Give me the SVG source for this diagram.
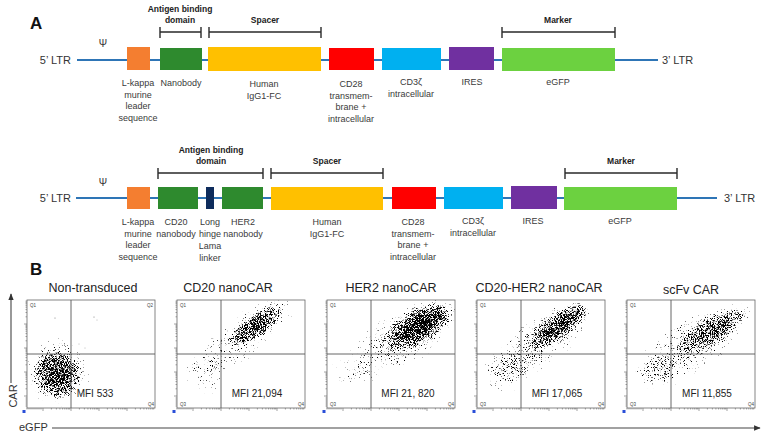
<svg xmlns="http://www.w3.org/2000/svg" width="768" height="436" viewBox="0 0 768 436">
<style>
text{font-family:"Liberation Sans",Arial,sans-serif;}
.lbl{font-size:9px;fill:#3a3a3a;text-anchor:middle;}
.hd{font-size:8.5px;font-weight:bold;fill:#222;text-anchor:middle;}
.ltr{font-size:11px;fill:#333;}
.psi{font-size:10px;fill:#333;text-anchor:middle;}
.pn{font-size:17px;font-weight:bold;fill:#111;}
.br{stroke:#2a2a2a;stroke-width:1.4;fill:none;}
.bb{stroke:#2E75B6;stroke-width:2.2;fill:none;}
.ttl{font-size:12.5px;fill:#222;text-anchor:middle;}
.mfi{font-size:10px;fill:#222;text-anchor:middle;}
.q{font-size:4.5px;fill:#444;}
.frame{fill:#fff;stroke:#666;stroke-width:0.8;}
.gate{stroke:#555;stroke-width:0.9;fill:none;}
.ax{stroke:#444;stroke-width:1.1;fill:none;}
</style>
<defs>
<marker id="ah" viewBox="0 0 10 10" refX="9" refY="5" markerWidth="6" markerHeight="6" orient="auto">
<path d="M0 1L10 5L0 9Z" fill="#333"/>
</marker>
<radialGradient id="rg">
<stop offset="0" stop-color="#000" stop-opacity="1"/>
<stop offset="0.4" stop-color="#000" stop-opacity="0.85"/>
<stop offset="0.75" stop-color="#000" stop-opacity="0.5"/>
<stop offset="1" stop-color="#000" stop-opacity="0"/>
</radialGradient>
<filter id="f1" x="0" y="0" width="128" height="108" filterUnits="userSpaceOnUse" color-interpolation-filters="sRGB">
<feTurbulence type="fractalNoise" baseFrequency="1.3" numOctaves="2" seed="3" result="n"/>
<feColorMatrix in="n" type="matrix" values="0 0 0 0 0 0 0 0 0 0 0 0 0 0 0 1.7 0 0 0 -0.35" result="na"/>
<feComposite in="SourceAlpha" in2="na" operator="arithmetic" k1="0" k2="0.8" k3="-1" k4="0" result="d"/>
<feComponentTransfer in="d"><feFuncA type="linear" slope="5" intercept="0"/></feComponentTransfer>
</filter>
<filter id="f2" x="0" y="0" width="128" height="108" filterUnits="userSpaceOnUse" color-interpolation-filters="sRGB">
<feTurbulence type="fractalNoise" baseFrequency="1.3" numOctaves="2" seed="11" result="n"/>
<feColorMatrix in="n" type="matrix" values="0 0 0 0 0 0 0 0 0 0 0 0 0 0 0 1.7 0 0 0 -0.35" result="na"/>
<feComposite in="SourceAlpha" in2="na" operator="arithmetic" k1="0" k2="0.8" k3="-1" k4="0" result="d"/>
<feComponentTransfer in="d"><feFuncA type="linear" slope="5" intercept="0"/></feComponentTransfer>
</filter>
<filter id="f3" x="0" y="0" width="128" height="108" filterUnits="userSpaceOnUse" color-interpolation-filters="sRGB">
<feTurbulence type="fractalNoise" baseFrequency="1.3" numOctaves="2" seed="27" result="n"/>
<feColorMatrix in="n" type="matrix" values="0 0 0 0 0 0 0 0 0 0 0 0 0 0 0 1.7 0 0 0 -0.35" result="na"/>
<feComposite in="SourceAlpha" in2="na" operator="arithmetic" k1="0" k2="0.8" k3="-1" k4="0" result="d"/>
<feComponentTransfer in="d"><feFuncA type="linear" slope="5" intercept="0"/></feComponentTransfer>
</filter>
<filter id="f4" x="0" y="0" width="128" height="108" filterUnits="userSpaceOnUse" color-interpolation-filters="sRGB">
<feTurbulence type="fractalNoise" baseFrequency="1.3" numOctaves="2" seed="42" result="n"/>
<feColorMatrix in="n" type="matrix" values="0 0 0 0 0 0 0 0 0 0 0 0 0 0 0 1.7 0 0 0 -0.35" result="na"/>
<feComposite in="SourceAlpha" in2="na" operator="arithmetic" k1="0" k2="0.8" k3="-1" k4="0" result="d"/>
<feComponentTransfer in="d"><feFuncA type="linear" slope="5" intercept="0"/></feComponentTransfer>
</filter>
<filter id="f5" x="0" y="0" width="128" height="108" filterUnits="userSpaceOnUse" color-interpolation-filters="sRGB">
<feTurbulence type="fractalNoise" baseFrequency="1.3" numOctaves="2" seed="58" result="n"/>
<feColorMatrix in="n" type="matrix" values="0 0 0 0 0 0 0 0 0 0 0 0 0 0 0 1.7 0 0 0 -0.35" result="na"/>
<feComposite in="SourceAlpha" in2="na" operator="arithmetic" k1="0" k2="0.8" k3="-1" k4="0" result="d"/>
<feComponentTransfer in="d"><feFuncA type="linear" slope="5" intercept="0"/></feComponentTransfer>
</filter>
<g id="plotbase">
<rect class="frame" x="0" y="0" width="128" height="108"/>
</g>
<g id="tk" stroke="#666" stroke-width="0.6" fill="none">
<path d="M0 108v1.5M2 108v1.5M4 108v1.5M6 108v1.5M8 108v1.5M10 108v1.5M12 108v1.5M14 108v1.5M16 108v3M24.4 108v1.5M29.4 108v1.5M32.9 108v1.5M35.6 108v1.5M37.8 108v1.5M39.7 108v1.5M41.3 108v1.5M42.7 108v1.5M44 108v3M52.4 108v1.5M57.4 108v1.5M60.9 108v1.5M63.6 108v1.5M65.8 108v1.5M67.7 108v1.5M69.3 108v1.5M70.7 108v1.5M72 108v3M80.4 108v1.5M85.4 108v1.5M88.9 108v1.5M91.6 108v1.5M93.8 108v1.5M95.7 108v1.5M97.3 108v1.5M98.7 108v1.5M100 108v3M108.4 108v1.5M113.4 108v1.5M116.9 108v1.5M119.6 108v1.5M121.8 108v1.5M123.7 108v1.5M125.3 108v1.5M126.7 108v1.5"/>
<path d="M0 106h-1.5M0 104h-1.5M0 102h-1.5M0 100h-1.5M0 98h-1.5M0 96h-3M0 88.8h-1.5M0 84.5h-1.5M0 81.6h-1.5M0 79.2h-1.5M0 77.3h-1.5M0 75.7h-1.5M0 74.3h-1.5M0 73.1h-1.5M0 72h-3M0 64.8h-1.5M0 60.5h-1.5M0 57.6h-1.5M0 55.2h-1.5M0 53.3h-1.5M0 51.7h-1.5M0 50.3h-1.5M0 49.1h-1.5M0 48h-3M0 40.8h-1.5M0 36.5h-1.5M0 33.6h-1.5M0 31.2h-1.5M0 29.3h-1.5M0 27.7h-1.5M0 26.3h-1.5M0 25.1h-1.5M0 24h-3M0 16.8h-1.5M0 12.5h-1.5M0 9.6h-1.5M0 7.2h-1.5M0 5.3h-1.5M0 3.7h-1.5M0 2.3h-1.5M0 1.1h-1.5"/>
<rect x="-4.5" y="110" width="3" height="3" fill="#2a4fd8" stroke="none"/>
</g>
<g id="gates">
<path class="gate" d="M44 0V108M0 54H128"/>
</g>
</defs>

<!-- Panel letters -->
<text class="pn" x="30" y="29">A</text>
<text class="pn" x="30" y="275">B</text>

<!-- Connectors: vector backbones and bracket lines -->
<g id="connectors">
<path class="bb" d="M77 60H658"/>
<path class="bb" d="M76 198H717"/>
<path class="br" d="M160 32H201M160 27V38M201 27V38"/>
<path class="br" d="M209 32H321M209 27V38M321 27V38"/>
<path class="br" d="M502 32H615M502 27V38M615 27V38"/>
<path class="br" d="M158 173H263M158 168V179M263 168V179"/>
<path class="br" d="M271 173H383M271 168V179M383 168V179"/>
<path class="br" d="M565 173H677M565 168V179M677 168V179"/>
<path class="ax" d="M11 383V294" marker-end="url(#ah)"/>
<path class="ax" d="M52 428H760" marker-end="url(#ah)"/>
</g>

<!-- Construct 1 -->
<g id="c1-ltr5"><text class="ltr" x="71" y="64" text-anchor="end">5’ LTR</text><text class="psi" x="103" y="47">Ψ</text></g>
<g id="c1-ltr3"><text class="ltr" x="662" y="64">3’ LTR</text></g>
<g id="c1-headers">
<text class="hd" x="180" y="11.5">Antigen binding</text>
<text class="hd" x="180" y="23">domain</text>
<text class="hd" x="265" y="23">Spacer</text>
<text class="hd" x="558" y="23">Marker</text>
</g>
<g id="c1-leader"><rect x="127" y="47" width="23" height="23" fill="#F47E30"/>
<text class="lbl" x="138" y="86">L-kappa</text><text class="lbl" x="138" y="97.5">murine</text><text class="lbl" x="138" y="109">leader</text><text class="lbl" x="138" y="120.5">sequence</text></g>
<g id="c1-nanobody"><rect x="160" y="48" width="42" height="22" fill="#2E8A2E"/>
<text class="lbl" x="181" y="86">Nanobody</text></g>
<g id="c1-fc"><rect x="208" y="47" width="113" height="24" fill="#FFC000"/>
<text class="lbl" x="264" y="87">Human</text><text class="lbl" x="264" y="99">IgG1-FC</text></g>
<g id="c1-cd28"><rect x="329" y="48" width="45" height="22" fill="#FF0000"/>
<text class="lbl" x="351" y="87">CD28</text><text class="lbl" x="351" y="98.5">transmem-</text><text class="lbl" x="351" y="110">brane +</text><text class="lbl" x="351" y="121.5">intracellular</text></g>
<g id="c1-cd3z"><rect x="382" y="48" width="59" height="22" fill="#00B0F0"/>
<text class="lbl" x="411" y="85">CD3ζ</text><text class="lbl" x="411" y="97">intracellular</text></g>
<g id="c1-ires"><rect x="449" y="47" width="45" height="23" fill="#7030A0"/>
<text class="lbl" x="472" y="85">IRES</text></g>
<g id="c1-egfp"><rect x="502" y="48" width="113" height="23" fill="#6CD140"/>
<text class="lbl" x="558" y="85">eGFP</text></g>

<!-- Construct 2 -->
<g id="c2-ltr5"><text class="ltr" x="71" y="202" text-anchor="end">5’ LTR</text><text class="psi" x="103" y="186">Ψ</text></g>
<g id="c2-ltr3"><text class="ltr" x="724" y="202">3’ LTR</text></g>
<g id="c2-headers">
<text class="hd" x="211" y="152.5">Antigen binding</text>
<text class="hd" x="211" y="164">domain</text>
<text class="hd" x="327" y="164">Spacer</text>
<text class="hd" x="621" y="164">Marker</text>
</g>
<g id="c2-leader"><rect x="127" y="187" width="23" height="22" fill="#F47E30"/>
<text class="lbl" x="138" y="225">L-kappa</text><text class="lbl" x="138" y="236.5">murine</text><text class="lbl" x="138" y="248">leader</text><text class="lbl" x="138" y="259.5">sequence</text></g>
<g id="c2-cd20"><rect x="158" y="187" width="40" height="22" fill="#2E8A2E"/>
<text class="lbl" x="176" y="225">CD20</text><text class="lbl" x="176" y="236.5">nanobody</text></g>
<g id="c2-linker"><rect x="206" y="187" width="8" height="22" fill="#0E2C5C"/>
<text class="lbl" x="210" y="225">Long</text><text class="lbl" x="210" y="237">hinge</text><text class="lbl" x="210" y="249">Lama</text><text class="lbl" x="210" y="261">linker</text></g>
<g id="c2-her2"><rect x="222" y="187" width="41" height="22" fill="#2E8A2E"/>
<text class="lbl" x="243" y="225">HER2</text><text class="lbl" x="243" y="236.5">nanobody</text></g>
<g id="c2-fc"><rect x="271" y="187" width="112" height="23" fill="#FFC000"/>
<text class="lbl" x="327" y="225">Human</text><text class="lbl" x="327" y="237">IgG1-FC</text></g>
<g id="c2-cd28"><rect x="392" y="187" width="44" height="22" fill="#FF0000"/>
<text class="lbl" x="413" y="225">CD28</text><text class="lbl" x="413" y="236.5">transmem-</text><text class="lbl" x="413" y="248">brane +</text><text class="lbl" x="413" y="259.5">intracellular</text></g>
<g id="c2-cd3z"><rect x="444" y="187" width="59" height="22" fill="#00B0F0"/>
<text class="lbl" x="473" y="224">CD3ζ</text><text class="lbl" x="473" y="236">intracellular</text></g>
<g id="c2-ires"><rect x="511" y="186" width="46" height="23" fill="#7030A0"/>
<text class="lbl" x="533" y="224">IRES</text></g>
<g id="c2-egfp"><rect x="564" y="187" width="113" height="23" fill="#6CD140"/>
<text class="lbl" x="620" y="224">eGFP</text></g>

<!-- Axis labels -->
<g id="axis-labels">
<text x="0" y="0" font-size="11" fill="#333" text-anchor="middle" transform="translate(17 396) rotate(-90)">CAR</text>
<text x="19" y="431" font-size="11" fill="#333">eGFP</text>
</g>

<!-- Plot 1 -->
<g id="plot-nontransduced">
<text class="ttl" x="93" y="292">Non-transduced</text>
<g transform="translate(27 300)">
<use href="#plotbase"/>
<g filter="url(#f1)">
<ellipse cx="30" cy="74" rx="25" ry="27" transform="rotate(-30 30 74)" fill="url(#rg)" opacity="0.85"/>
<ellipse cx="32" cy="72" rx="34" ry="36" fill="url(#rg)" opacity="0.5"/>
</g>
<g fill="#666"><circle cx="28" cy="18" r="0.5"/><circle cx="67" cy="17" r="0.5"/><circle cx="70" cy="20" r="0.4"/><circle cx="52" cy="44" r="0.4"/><circle cx="58" cy="48" r="0.4"/></g>
<use href="#gates"/>
<use href="#tk"/>
<text class="q" x="3" y="7">Q1</text><text class="q" x="120" y="7">Q2</text><text class="q" x="121" y="106">Q4</text>
<text class="mfi" x="68" y="97">MFI 533</text>
</g>
</g>

<!-- Plot 2 -->
<g id="plot-cd20">
<text class="ttl" x="228" y="292">CD20 nanoCAR</text>
<g transform="translate(177 300)">
<use href="#plotbase"/>
<g filter="url(#f2)">
<ellipse cx="80" cy="25" rx="36" ry="12" transform="rotate(-36 80 25)" fill="url(#rg)" opacity="0.85"/>
<ellipse cx="68" cy="36" rx="62" ry="22" transform="rotate(-36 68 36)" fill="url(#rg)" opacity="0.43"/>
<ellipse cx="28" cy="72" rx="24" ry="24" fill="url(#rg)" opacity="0.3"/>
</g>
<use href="#gates"/>
<use href="#tk"/>
<text class="q" x="3" y="7">Q1</text><text class="q" x="3" y="106">Q3</text><text class="q" x="121" y="106">Q4</text>
<text class="mfi" x="80" y="97">MFI 21,094</text>
</g>
</g>

<!-- Plot 3 -->
<g id="plot-her2">
<text class="ttl" x="391" y="292">HER2 nanoCAR</text>
<g transform="translate(327 300)">
<use href="#plotbase"/>
<g filter="url(#f3)">
<ellipse cx="92" cy="26" rx="42" ry="19" transform="rotate(-30 92 26)" fill="url(#rg)" opacity="0.95"/>
<ellipse cx="98" cy="22" rx="24" ry="10" transform="rotate(-30 98 22)" fill="url(#rg)" opacity="0.5"/>
<ellipse cx="75" cy="38" rx="64" ry="30" transform="rotate(-32 75 38)" fill="url(#rg)" opacity="0.43"/>
<ellipse cx="28" cy="70" rx="24" ry="20" fill="url(#rg)" opacity="0.27"/>
</g>
<use href="#gates"/>
<use href="#tk"/>
<text class="q" x="3" y="7">Q1</text><text class="q" x="3" y="106">Q3</text><text class="q" x="121" y="106">Q4</text>
<text class="mfi" x="81" y="97">MFI 21, 820</text>
</g>
</g>

<!-- Plot 4 -->
<g id="plot-cd20her2">
<text class="ttl" x="539" y="292">CD20-HER2 nanoCAR</text>
<g transform="translate(477 300)">
<use href="#plotbase"/>
<g filter="url(#f4)">
<ellipse cx="82" cy="26" rx="40" ry="14" transform="rotate(-36 82 26)" fill="url(#rg)" opacity="0.85"/>
<ellipse cx="62" cy="42" rx="68" ry="26" transform="rotate(-38 62 42)" fill="url(#rg)" opacity="0.46"/>
<ellipse cx="30" cy="72" rx="26" ry="22" fill="url(#rg)" opacity="0.32"/>
</g>
<use href="#gates"/>
<use href="#tk"/>
<text class="q" x="3" y="7">Q1</text><text class="q" x="3" y="106">Q3</text><text class="q" x="121" y="106">Q4</text>
<text class="mfi" x="80" y="97">MFI 17,065</text>
</g>
</g>

<!-- Plot 5 -->
<g id="plot-scfv">
<text class="ttl" x="691" y="294">scFv CAR</text>
<g transform="translate(627 300)">
<use href="#plotbase"/>
<g filter="url(#f5)">
<ellipse cx="86" cy="30" rx="44" ry="15" transform="rotate(-30 86 30)" fill="url(#rg)" opacity="0.7"/>
<ellipse cx="65" cy="45" rx="68" ry="28" transform="rotate(-32 65 45)" fill="url(#rg)" opacity="0.46"/>
<ellipse cx="30" cy="72" rx="24" ry="22" fill="url(#rg)" opacity="0.33"/>
</g>
<use href="#gates"/>
<use href="#tk"/>
<text class="q" x="3" y="7">Q1</text><text class="q" x="3" y="106">Q3</text><text class="q" x="121" y="106">Q4</text>
<text class="mfi" x="80" y="97">MFI 11,855</text>
</g>
</g>
</svg>
